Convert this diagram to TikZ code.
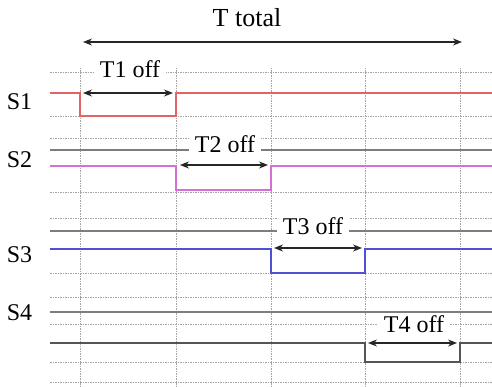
\documentclass[tikz,border=0pt]{standalone}
\usepackage{fontspec}
\setmainfont{Liberation Serif}
\usetikzlibrary{arrows.meta}
\definecolor{gridgray}{RGB}{165,165,165}
\definecolor{solidgray}{RGB}{125,125,125}
\definecolor{sigred}{RGB}{225,100,100}
\definecolor{sigmag}{RGB}{215,110,215}
\definecolor{sigblue}{RGB}{80,80,215}
\definecolor{sigdark}{RGB}{85,85,85}
\tikzset{
  gridline/.style={gridgray, line width=0.9pt, dash pattern=on 1.5pt off 1pt},
  solidline/.style={solidgray, line width=1.6pt},
  signal/.style={line width=1.5pt},
  dim/.style={{Stealth[length=9pt,width=7pt]}-{Stealth[length=9pt,width=7pt]}, line width=1.3pt, black!85},
  lbl/.style={font=\fontsize{24}{28}\selectfont, inner sep=0pt, anchor=base},
  tlbl/.style={lbl, fill=white, inner xsep=6pt, inner ysep=2pt},
}
\begin{document}
\begin{tikzpicture}[x=1pt,y=-1pt]
\useasboundingbox[fill=white] (0,0) rectangle (492,387);
% horizontal dotted grid
\foreach \y in {72,116,138,192,218,273,297,324,362,382}
  \draw[gridline] (50,\y) -- (492,\y);
% vertical dotted grid
\foreach \x in {80,176,271,365,460}
  \draw[gridline] (\x,68) -- (\x,387);
% solid gray lines
\foreach \y in {150,231,312}
  \draw[solidline] (50,\y) -- (492,\y);

% signals
\draw[signal, sigred] (50,93) -- (80,93) -- (80,116) -- (176,116) -- (176,93) -- (492,93);
\draw[signal, sigmag] (50,166) -- (176,166) -- (176,190) -- (271,190) -- (271,166) -- (492,166);
\draw[signal, sigblue] (50,249) -- (271,249) -- (271,273) -- (365,273) -- (365,249) -- (492,249);
\draw[signal, sigdark] (50,343) -- (365,343) -- (365,362) -- (460,362) -- (460,343) -- (492,343);

% signal names
\node[lbl] (s1) at (19.5,110) {S1};
\node[lbl] (s2) at (19.5,168) {S2};
\node[lbl] (s3) at (19.5,262) {S3};
\node[lbl] (s4) at (19.5,320) {S4};

% T total
\node[lbl, font=\fontsize{26}{30}\selectfont] (ttot) at (247,27) {T total};
\coordinate (tt1) at (83,42);
\coordinate (tt2) at (462,42);
\draw[dim] (tt1) -- (tt2);

% off labels
\node[tlbl] (t1) at (130,78) {T1 off};
\node[tlbl] (t2) at (225,153) {T2 off};
\node[tlbl] (t3) at (313,235) {T3 off};
\node[tlbl] (t4) at (414,332) {T4 off};

\coordinate (a1) at (83,93);  \coordinate (b1) at (173,93);
\coordinate (a2) at (180,165); \coordinate (b2) at (268,165);
\coordinate (a3) at (274,248); \coordinate (b3) at (362,248);
\coordinate (a4) at (368,343); \coordinate (b4) at (457,343);
\draw[dim] (a1) -- (b1);
\draw[dim] (a2) -- (b2);
\draw[dim] (a3) -- (b3);
\draw[dim] (a4) -- (b4);
\end{tikzpicture}
\end{document}
